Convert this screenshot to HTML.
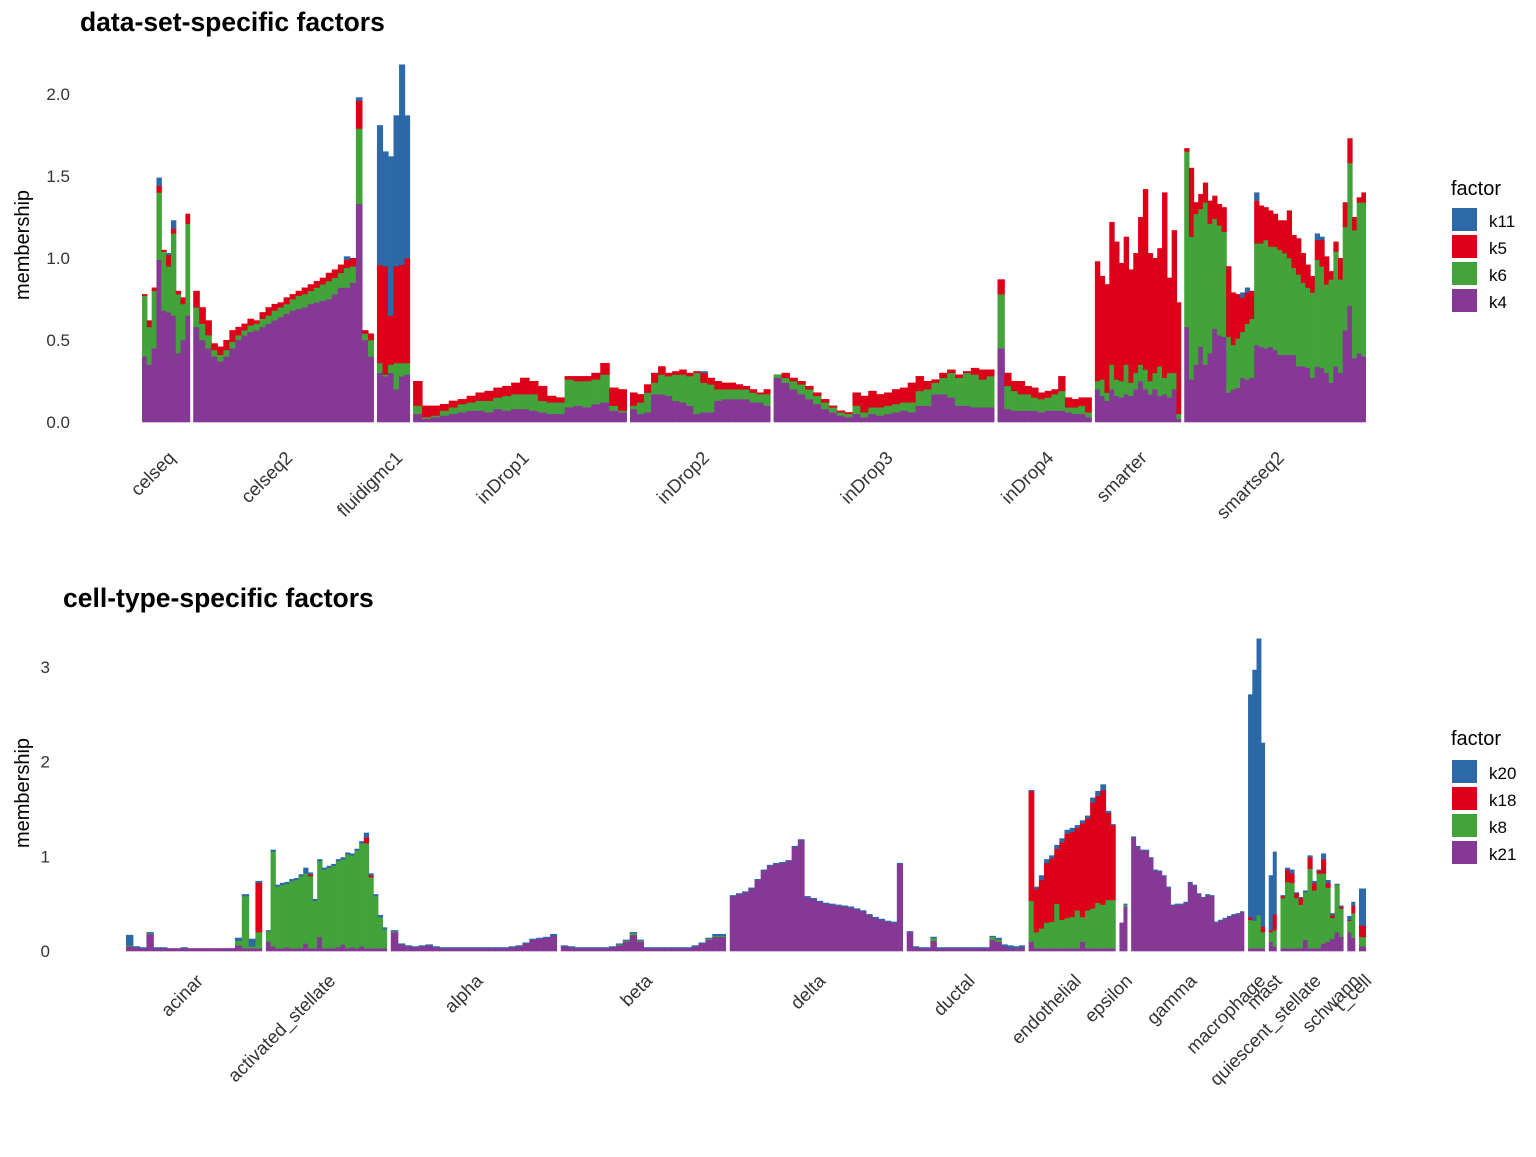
<!DOCTYPE html>
<html><head><meta charset="utf-8"><style>
body{margin:0;background:#fff;}
svg text{font-family:"Liberation Sans",Arial,sans-serif;}
</style></head><body>
<svg id="chart" width="1536" height="1152" viewBox="0 0 1536 1152" xmlns="http://www.w3.org/2000/svg">
<text x="80" y="31" font-size="26.5" font-weight="bold" fill="#000">data-set-specific factors</text>
<text x="63" y="607" font-size="26.5" font-weight="bold" fill="#000">cell-type-specific factors</text>
<text transform="translate(29,245) rotate(-90)" text-anchor="middle" font-size="20" fill="#000">membership</text>
<text transform="translate(29,793) rotate(-90)" text-anchor="middle" font-size="20" fill="#000">membership</text>
<g id="top"></g><g id="bottom"></g>
<g>
<text x="1451" y="195" font-size="20">factor</text>
<rect x="1452" y="208" width="25" height="23" fill="#2D69A9"/><text x="1489" y="227" font-size="17">k11</text>
<rect x="1452" y="235" width="25" height="23" fill="#DC0019"/><text x="1489" y="254" font-size="17">k5</text>
<rect x="1452" y="262" width="25" height="23" fill="#41A33A"/><text x="1489" y="281" font-size="17">k6</text>
<rect x="1452" y="289" width="25" height="23" fill="#853894"/><text x="1489" y="308" font-size="17">k4</text>
</g>
<g>
<text x="1451" y="745" font-size="20">factor</text>
<rect x="1452" y="760" width="25" height="23" fill="#2D69A9"/><text x="1489" y="779" font-size="17">k20</text>
<rect x="1452" y="787" width="25" height="23" fill="#DC0019"/><text x="1489" y="806" font-size="17">k18</text>
<rect x="1452" y="814" width="25" height="23" fill="#41A33A"/><text x="1489" y="833" font-size="17">k8</text>
<rect x="1452" y="841" width="25" height="23" fill="#853894"/><text x="1489" y="860" font-size="17">k21</text>
</g>
</svg>
<script>
// ---------- TOP PANEL DATA ----------
const topGroups = ["celseq","celseq2","fluidigmc1","inDrop1","inDrop2","inDrop3","inDrop4","smarter","smartseq2"];
const topGroupCells = [48,180,33,213,140,220,94,86,181];
const topTicks = [0.0,0.5,1.0,1.5,2.0];
const topTickLabels = ["0.0","0.5","1.0","1.5","2.0"];
const topK4 = [
[0.40,0.35,0.45,0.99,0.68,0.67,0.65,0.42,0.50,0.65],
[0.58,0.50,0.45,0.40,0.37,0.40,0.45,0.50,0.53,0.55,0.56,0.58,0.60,0.62,0.64,0.66,0.68,0.69,0.70,0.72,0.73,0.74,0.75,0.78,0.82,0.82,0.85,1.33,0.50,0.40],
[0.30,0.28,0.30,0.20,0.28,0.29],
[0.05,0.02,0.03,0.04,0.05,0.06,0.07,0.07,0.06,0.08,0.07,0.08,0.08,0.07,0.06,0.05,0.05,0.09,0.10,0.09,0.11,0.12,0.07,0.06],
[0.08,0.05,0.06,0.17,0.17,0.16,0.13,0.12,0.10,0.05,0.06,0.06,0.13,0.14,0.14,0.14,0.14,0.12,0.12,0.10],
[0.27,0.24,0.20,0.17,0.14,0.11,0.08,0.06,0.04,0.03,0.05,0.03,0.05,0.04,0.05,0.06,0.07,0.06,0.10,0.10,0.17,0.17,0.15,0.10,0.10,0.09,0.09,0.09],
[0.45,0.08,0.07,0.07,0.07,0.07,0.06,0.07,0.07,0.07,0.06,0.05,0.05,0.03],
[0.20,0.16,0.13,0.20,0.16,0.15,0.17,0.16,0.20,0.25,0.20,0.17,0.20,0.16,0.17,0.15,0.20,0.02],
[0.58,0.26,0.35,0.46,0.35,0.42,0.57,0.53,0.52,0.18,0.20,0.21,0.27,0.26,0.27,0.47,0.46,0.45,0.46,0.44,0.41,0.41,0.41,0.41,0.34,0.34,0.33,0.27,0.34,0.33,0.30,0.24,0.34,0.30,0.56,0.71,0.39,0.42,0.40]
];
const topK6 = [
[0.37,0.23,0.35,0.41,0.36,0.28,0.50,0.36,0.22,0.56],
[0.12,0.10,0.08,0.04,0.04,0.04,0.04,0.03,0.03,0.04,0.04,0.05,0.05,0.06,0.06,0.06,0.07,0.08,0.08,0.08,0.09,0.10,0.11,0.10,0.09,0.12,0.10,0.46,0.04,0.10],
[0.06,0.01,0.05,0.16,0.08,0.07],
[0.05,0.01,0.01,0.03,0.04,0.05,0.05,0.06,0.07,0.07,0.09,0.09,0.09,0.10,0.07,0.07,0.07,0.17,0.15,0.16,0.15,0.17,0.03,0.01],
[0.02,0.07,0.12,0.07,0.12,0.12,0.16,0.17,0.18,0.25,0.18,0.17,0.07,0.06,0.06,0.06,0.06,0.06,0.05,0.07],
[0.02,0.03,0.05,0.06,0.06,0.05,0.04,0.03,0.02,0.02,0.05,0.03,0.04,0.05,0.05,0.05,0.05,0.06,0.09,0.10,0.07,0.10,0.15,0.17,0.20,0.20,0.17,0.19],
[0.33,0.14,0.12,0.10,0.10,0.08,0.08,0.08,0.10,0.12,0.03,0.04,0.05,0.03],
[0.05,0.10,0.05,0.15,0.10,0.10,0.18,0.08,0.10,0.10,0.12,0.08,0.10,0.18,0.10,0.15,0.10,0.03],
[1.07,0.87,0.92,0.84,0.99,0.79,0.67,0.67,0.64,0.34,0.27,0.30,0.28,0.34,0.36,0.62,0.63,0.66,0.61,0.63,0.64,0.62,0.59,0.53,0.56,0.51,0.49,0.52,0.65,0.62,0.54,0.63,0.70,0.57,0.63,0.87,0.78,0.92,0.94]
];
const topK5 = [
[0.01,0.04,0.02,0.04,0.01,0.07,0.03,0.02,0.04,0.06],
[0.10,0.10,0.09,0.04,0.05,0.06,0.07,0.05,0.04,0.04,0.02,0.04,0.05,0.04,0.03,0.04,0.03,0.03,0.04,0.04,0.04,0.04,0.05,0.05,0.05,0.05,0.05,0.17,0.02,0.04],
[0.60,0.66,0.30,0.59,0.60,0.64],
[0.15,0.07,0.06,0.04,0.04,0.03,0.04,0.05,0.06,0.06,0.06,0.07,0.10,0.08,0.09,0.04,0.03,0.02,0.03,0.03,0.04,0.07,0.11,0.13],
[0.08,0.05,0.05,0.06,0.05,0.02,0.02,0.03,0.02,0.01,0.06,0.04,0.05,0.04,0.04,0.03,0.02,0.02,0.01,0.03],
[0.00,0.03,0.02,0.02,0.02,0.02,0.02,0.01,0.01,0.01,0.08,0.10,0.10,0.08,0.08,0.09,0.09,0.12,0.09,0.05,0.02,0.03,0.02,0.02,0.01,0.04,0.06,0.04],
[0.09,0.08,0.06,0.08,0.05,0.06,0.04,0.04,0.03,0.09,0.06,0.05,0.05,0.09],
[0.73,0.63,0.66,0.87,0.84,0.72,0.78,0.69,0.73,0.90,1.10,0.78,0.70,0.72,1.13,0.58,0.87,0.68],
[0.02,0.42,0.07,0.09,0.12,0.14,0.14,0.13,0.15,0.43,0.32,0.27,0.21,0.19,0.17,0.26,0.23,0.20,0.22,0.20,0.18,0.20,0.29,0.20,0.22,0.18,0.14,0.10,0.12,0.16,0.17,0.05,0.06,0.13,0.15,0.15,0.08,0.03,0.06]
];
const topK11 = [
[0,0,0,0.05,0,0.01,0.05,0,0,0],
[0,0,0,0,0,0,0,0,0,0,0,0,0,0,0,0,0,0,0,0,0,0,0,0,0,0.02,0,0.02,0,0],
[0.85,0.70,0.97,0.92,1.22,0.87],
[0,0,0,0,0,0,0,0,0,0,0,0,0,0,0,0,0,0,0,0,0,0,0,0],
[0,0,0,0,0,0,0,0,0,0,0.01,0,0,0,0,0,0,0,0,0],
[0,0,0,0,0,0,0,0,0,0,0,0,0,0,0,0,0,0,0,0,0,0,0,0,0,0,0,0],
[0,0,0,0,0,0,0,0,0,0,0,0,0,0],
[0,0,0,0,0,0,0,0,0,0,0,0,0,0,0,0,0,0],
[0,0,0,0,0,0,0,0,0,0,0,0,0.03,0.03,0,0.05,0,0,0,0,0,0,0,0,0,0,0,0,0.04,0.02,0,0,0,0,0,0,0,0,0]
];
// ---------- BOTTOM PANEL DATA ----------
const botGroups = ["acinar","activated_stellate","alpha","beta","delta","ductal","endothelial","epsilon","gamma","macrophage","mast","quiescent_stellate","schwann","t_cell"];
const botGroupCells = [136,121,166,165,173,118,87,8,113,17,8,63,8,7];
const botTicks = [0,1,2,3];
const botTickLabels = ["0","1","2","3"];
const botK21 = [
[0.05,0.04,0.03,0.18,0.03,0.03,0.03,0.03,0.03,0.03,0.03,0.03,0.03,0.03,0.03,0.03,0.06,0.03,0.03,0.03],
[0.10,0.05,0.03,0.03,0.04,0.03,0.03,0.03,0.08,0.03,0.03,0.15,0.03,0.03,0.03,0.04,0.07,0.03,0.04,0.03,0.05,0.03,0.03,0.03,0.03,0.03],
[0.20,0.07,0.05,0.04,0.05,0.06,0.04,0.03,0.03,0.03,0.03,0.03,0.03,0.03,0.03,0.03,0.03,0.04,0.05,0.08,0.12,0.13,0.14,0.16],
[0.05,0.04,0.03,0.03,0.03,0.03,0.03,0.04,0.06,0.10,0.17,0.10,0.03,0.03,0.03,0.03,0.03,0.03,0.03,0.05,0.08,0.12,0.15,0.15],
[0.58,0.60,0.62,0.66,0.75,0.85,0.90,0.92,0.93,0.95,1.10,1.17,0.57,0.55,0.52,0.50,0.49,0.48,0.47,0.46,0.44,0.42,0.38,0.35,0.33,0.31,0.30,0.92],
[0.20,0.04,0.03,0.03,0.11,0.03,0.03,0.03,0.03,0.03,0.03,0.03,0.03,0.03,0.12,0.10,0.05,0.03,0.03,0.04],
[0.10,0.03,0.03,0.03,0.03,0.03,0.03,0.03,0.03,0.03,0.10,0.03,0.03,0.03,0.03,0.03,0.03],
[0.30,0.47],
[1.20,1.10,1.06,1.06,0.98,0.85,0.84,0.79,0.67,0.48,0.49,0.49,0.51,0.72,0.69,0.60,0.56,0.59,0.58,0.30,0.32,0.34,0.36,0.38,0.39,0.41],
[0.03,0.03,0.03,0.03],
[0.10,0.05],
[0.03,0.03,0.03,0.03,0.03,0.12,0.03,0.03,0.03,0.08,0.10,0.13,0.20,0.15],
[0.20,0.14],
[0.05]
];
const botK8 = [
[0.01,0,0,0.01,0,0,0,0,0,0,0,0,0,0,0,0,0.05,0.55,0.02,0.17],
[0.11,1.00,0.65,0.67,0.67,0.71,0.72,0.76,0.74,0.76,0.50,0.80,0.83,0.85,0.87,0.91,0.90,0.99,0.97,1.03,1.09,1.11,0.75,0.55,0.33,0.20],
[0.01,0,0,0,0,0,0,0,0,0,0,0,0,0,0,0,0,0,0,0,0,0,0,0],
[0,0,0,0,0,0,0,0,0.01,0.01,0.02,0.01,0,0,0,0,0,0,0,0,0,0.01,0.01,0.01],
[0,0,0,0,0,0,0,0,0,0,0,0,0,0,0,0,0,0,0,0,0,0,0,0,0,0,0,0],
[0,0,0,0,0.03,0,0,0,0,0,0,0,0,0,0.03,0.02,0,0,0,0],
[0.43,0.17,0.21,0.27,0.28,0.47,0.30,0.32,0.33,0.40,0.26,0.40,0.42,0.48,0.46,0.51,0.51],
[0,0.02],
[0,0,0,0,0,0,0,0,0,0,0,0,0,0,0,0,0,0,0,0,0,0,0,0,0,0],
[0.30,0.29,0.35,0.17],
[0.10,0.17],
[0.53,0.70,0.69,0.53,0.46,0.50,0.84,0.61,0.79,0.74,0.57,0.22,0.50,0.30],
[0.12,0.26],
[0.10]
];
const botK18 = [
[0,0,0,0,0,0,0,0,0,0,0,0,0,0,0,0,0,0,0,0.52],
[0,0,0,0,0,0,0,0,0,0.02,0,0,0,0,0,0,0,0,0,0,0,0.06,0.02,0,0,0],
[0,0,0,0,0,0,0,0,0,0,0,0,0,0,0,0,0,0,0,0,0,0,0,0],
[0,0,0,0,0,0,0,0,0,0,0,0,0,0,0,0,0,0,0,0,0,0,0,0],
[0,0,0,0,0,0,0,0,0,0,0,0,0,0,0,0,0,0,0,0,0,0,0,0,0,0,0,0],
[0,0,0,0,0,0,0,0,0,0,0,0,0,0,0,0,0,0,0,0],
[1.16,0.46,0.51,0.63,0.67,0.58,0.82,0.89,0.90,0.87,0.99,0.97,1.12,1.13,1.21,0.92,0.79],
[0,0],
[0,0,0,0,0,0,0,0,0,0,0,0,0,0,0,0,0,0,0,0,0,0,0,0,0,0],
[0.03,0,0,0.06],
[0.02,0.17],
[0.02,0.13,0.10,0.05,0.07,0,0.12,0.08,0.03,0.15,0.05,0.03,0,0.02],
[0.01,0.08],
[0.12]
];
const botK20 = [
[0.11,0.01,0.01,0.01,0.01,0.01,0,0,0.01,0,0,0,0,0,0,0,0.03,0.02,0.08,0.02],
[0.01,0.02,0.02,0.02,0.02,0.02,0.02,0.02,0.06,0.02,0.02,0.02,0.02,0.02,0.02,0.02,0.02,0.02,0.02,0.02,0.02,0.05,0.02,0.02,0.02,0.02],
[0.01,0.01,0.01,0.01,0.01,0.01,0.01,0.01,0.01,0.01,0.01,0.01,0.01,0.01,0.01,0.01,0.01,0.01,0.01,0.01,0.01,0.01,0.01,0.02],
[0.01,0.01,0.01,0.01,0.01,0.01,0.01,0.01,0.01,0.01,0.01,0.01,0.01,0.01,0.01,0.01,0.01,0.01,0.01,0.01,0.01,0.01,0.02,0.02],
[0.01,0.01,0.01,0.01,0.01,0.01,0.01,0.01,0.01,0.01,0.01,0.01,0.01,0.01,0.01,0.01,0.01,0.01,0.01,0.01,0.01,0.01,0.01,0.01,0.01,0.01,0.01,0.01],
[0.01,0.01,0.01,0.01,0.01,0.01,0.01,0.01,0.01,0.01,0.01,0.01,0.01,0.01,0.01,0.02,0.02,0.03,0.02,0.02],
[0.01,0.02,0.05,0.04,0.03,0.04,0.04,0.04,0.04,0.03,0.03,0.03,0.05,0.05,0.06,0.02,0.01],
[0,0.01],
[0.01,0.01,0.01,0.01,0.01,0.01,0.01,0.01,0.01,0.01,0.01,0.01,0.01,0.01,0.01,0.01,0.01,0.01,0.01,0.01,0.01,0.01,0.01,0.01,0.01,0.01],
[2.35,2.65,2.92,1.94],
[0.58,0.66],
[0.01,0.02,0.04,0.01,0.01,0.02,0.02,0.02,0.01,0.06,0.03,0.02,0.01,0.01],
[0.04,0.04],
[0.39]
];
const COLORS = ["#853894","#41A33A","#DC0019","#2D69A9"];

const NS = "http://www.w3.org/2000/svg";
function mk(tag, attrs, parent){
  const e = document.createElementNS(NS, tag);
  for (const k in attrs) e.setAttribute(k, attrs[k]);
  parent.appendChild(e);
  return e;
}
function drawPanel(gid, cfg){
  const g = document.getElementById(gid);
  const yScale = v => cfg.y0 - v * cfg.pxPerUnit;
  cfg.ticks.forEach((t, i) => {
    const tx = mk("text", {x: cfg.tickRight, y: yScale(t) + 6, "text-anchor": "end", "font-size": 17, fill: "#333"}, g);
    tx.textContent = cfg.tickLabels[i];
    
    
  });
  const total = cfg.cells.reduce((a, b) => a + b, 0);
  const plotW = cfg.x1 - cfg.x0 - cfg.gap * (cfg.cells.length - 1);
  const xScale = c => c / total * plotW;
  let cx = cfg.x0;
  cfg.groups.forEach((name, gi) => {
    const gw = xScale(cfg.cells[gi]);
    const series = cfg.series.map(s => s[gi]);
    const n = series[0].length;
    const bw = gw / n;
    const grp = mk("g", {}, g);
    
    
    for (let b = 0; b < n; b++) {
      let acc = 0;
      const bx = cx + b * bw;
      const w = (b === n - 1) ? bw : bw + 0.6;
      series.forEach((s, si) => {
        const v = s[b];
        if (v > 0) {
          const r = mk("rect", {x: bx.toFixed(2), y: yScale(acc + v).toFixed(2), width: w.toFixed(2), height: (v * cfg.pxPerUnit + 0.3).toFixed(2), fill: COLORS[si]}, grp);
          
          
        }
        acc += v;
      });
    }
    const center = cx + gw / 2;
    const lx = center + 10, ly = cfg.labelY;
    const lab = mk("text", {x: lx, y: ly, "text-anchor": "end", "font-size": 18.5, fill: "#333", transform: `rotate(-45 ${lx} ${ly})`}, g);
    lab.textContent = name;
    
    
    cx += gw + cfg.gap;
  });
}
drawPanel("top", {groups: topGroups, cells: topGroupCells, series: [topK4, topK6, topK5, topK11], factorNames: ["k4","k6","k5","k11"],
  x0: 142, x1: 1366, gap: 3, y0: 422, pxPerUnit: 164, ticks: topTicks, tickLabels: topTickLabels, tickRight: 70, labelY: 459});
drawPanel("bottom", {groups: botGroups, cells: botGroupCells, series: [botK21, botK8, botK18, botK20], factorNames: ["k21","k8","k18","k20"],
  x0: 126, x1: 1366, gap: 3.7, y0: 951, pxPerUnit: 94.7, ticks: botTicks, tickLabels: botTickLabels, tickRight: 50, labelY: 982});
</script>
</body></html>
